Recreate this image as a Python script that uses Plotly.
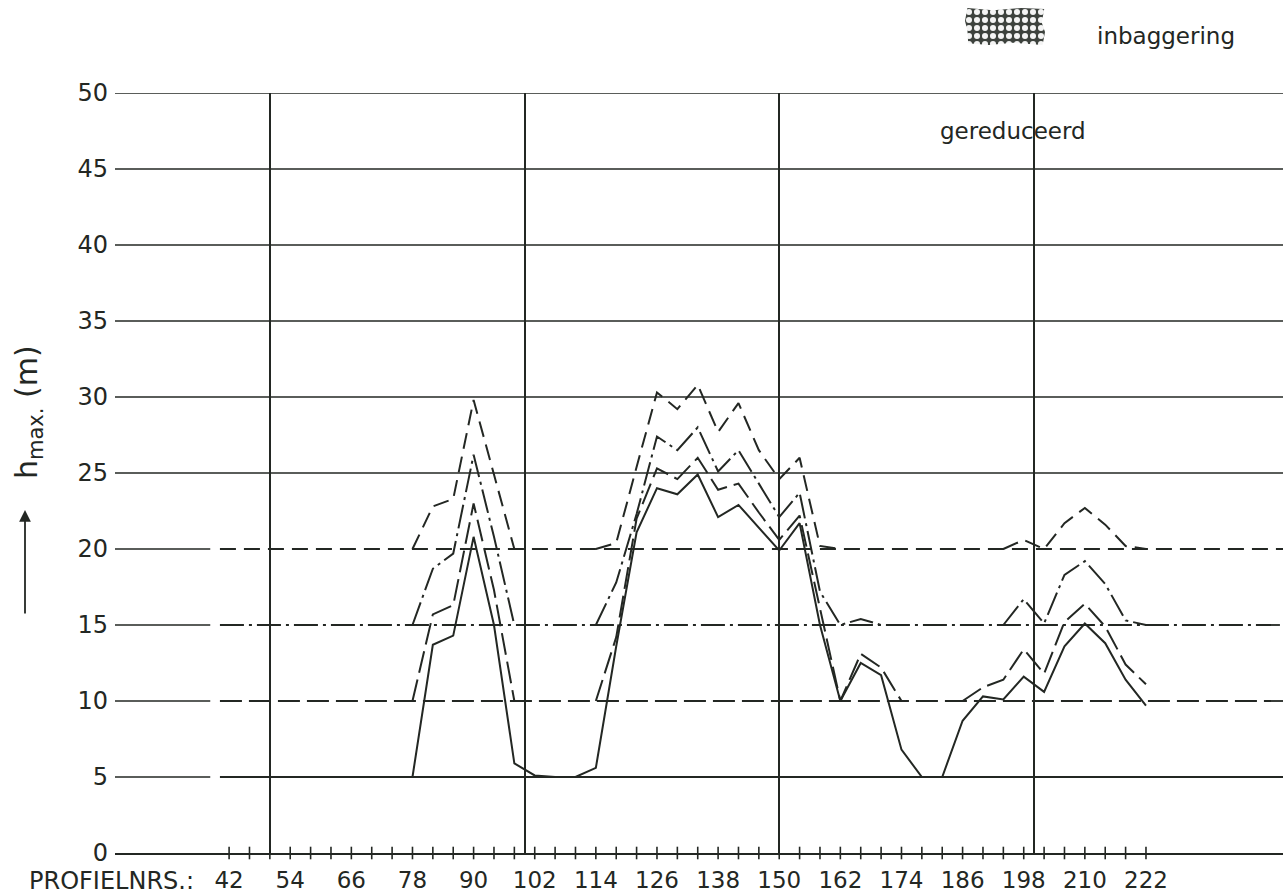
import plotly.graph_objects as go

# Profile numbers along the coast (every 4th profile)
PROFILES = [42, 46, 50, 54, 58, 62, 66, 70, 74,
            78, 82, 86, 90, 94, 98,
            102, 106, 110,
            114, 118, 122, 126, 130, 134, 138, 142, 146, 150, 154, 158,
            162, 166, 170, 174, 178, 182,
            186, 190, 194, 198, 202, 206, 210, 214, 218, 222]

# h_max (m) per profile, four curves each drawn on its own base level
H_SOLID = [5, 5, 5, 5, 5, 5, 5, 5, 5,
           5.0, 13.7, 14.3, 20.8, 15.0, 5.9,
           5.1, 5.0, 5.0,
           5.6, 13.6, 21.1, 24.0, 23.6, 24.9, 22.1, 22.9, 21.4, 19.9, 21.7, 15.0,
           10.0, 12.5, 11.7, 6.8, 5.0, 5.0,
           8.7, 10.3, 10.1, 11.6, 10.6, 13.6, 15.1, 13.8, 11.4, 9.7]
H_DASH = [10, 10, 10, 10, 10, 10, 10, 10, 10,
          10.0, 15.7, 16.3, 23.0, 17.3, 10.0,
          10, 10, 10,
          10.0, 14.2, 22.0, 25.3, 24.6, 26.0, 23.9, 24.3, 22.4, 20.6, 22.2, 16.0,
          10.0, 13.1, 12.2, 10.0, 10, 10,
          10.0, 10.9, 11.4, 13.4, 11.8, 15.2, 16.4, 14.9, 12.4, 11.1]
H_DASHDOT = [15, 15, 15, 15, 15, 15, 15, 15, 15,
             15.0, 18.7, 19.7, 26.2, 20.8, 15.0,
             15, 15, 15,
             15.0, 17.8, 22.3, 27.4, 26.5, 28.0, 25.1, 26.5, 24.3, 22.1, 23.7, 17.2,
             15.0, 15.4, 15.0, 15, 15, 15,
             15, 15, 15.0, 16.7, 15.1, 18.3, 19.2, 17.7, 15.3, 15.0]
H_LONGDASH = [20, 20, 20, 20, 20, 20, 20, 20, 20,
              20.0, 22.8, 23.3, 29.8, 24.9, 20.0,
              20, 20, 20,
              20.0, 20.4, 25.4, 30.3, 29.2, 30.8, 27.7, 29.6, 26.5, 24.6, 26.0, 20.2,
              20, 20, 20, 20, 20, 20,
              20, 20, 20.0, 20.6, 20.0, 21.7, 22.7, 21.6, 20.2, 20.0]

BASE_LEVELS = [5, 10, 15, 20]
FULL_GRID_LEVELS = [25, 30, 35, 40, 45, 50]
PROFILE_LABELS = [42, 54, 66, 78, 90, 102, 114, 126, 138, 150, 162, 174, 186, 198, 210, 222]
Y_TICKS = [0, 5, 10, 15, 20, 25, 30, 35, 40, 45, 50]

# ---- geometry / style ----
W, H = 1287, 896
ML, MR, MT, MB = 115, 4, 0, 43
PLOT_W = W - ML - MR
PLOT_H = H - MT - MB
X_RANGE = [19.6, 248.9]
STUB_END = 38.3      # short grid stubs for the base levels
BASE_START = 40.2    # where the base-level lines begin
INK = "#232723"
FONT = "DejaVu Sans"


def px(x):
    return (x - ML) / PLOT_W


def py(y):
    return (H - MB - y) / PLOT_H


Y_TOP = py(93)

fig = go.Figure()

series = [
    (H_SOLID, 5, "solid"),
    (H_DASH, 10, "22px,7px"),
    (H_DASHDOT, 15, "24px,5px,3px,5px"),
    (H_LONGDASH, 20, "16px,8px"),
]

# base-level lines in each curve's own line style
for vals, base, dash in series:
    fig.add_trace(go.Scatter(
        x=[BASE_START, X_RANGE[1]], y=[base, base], mode="lines",
        line=dict(color=INK, width=1.8, dash=dash),
        hoverinfo="skip", showlegend=False))

# curves: only the stretches that leave the base level
for vals, base, dash in series:
    ys = []
    n = len(vals)
    for i, v in enumerate(vals):
        up = [vals[j] > base + 0.05 for j in (i - 1, i, i + 1) if 0 <= j < n]
        ys.append(v if any(up) else None)
    fig.add_trace(go.Scatter(
        x=PROFILES, y=ys, mode="lines", connectgaps=False,
        line=dict(color=INK, width=2.0, dash=dash),
        hoverinfo="skip", showlegend=False))

# small ticks across the horizontal axis at every profile
fig.add_trace(go.Scatter(
    x=PROFILES, y=[0] * len(PROFILES), mode="markers",
    marker=dict(symbol="line-ns", size=9, line=dict(color=INK, width=1.6)),
    cliponaxis=False, hoverinfo="skip", showlegend=False))

# hatched legend patch for "inbaggering"
fig.add_trace(go.Scatter(
    x=[0.04, 0.3, 0.6, 0.97, 1.0, 0.96, 0.99, 0.7, 0.35, 0.03, 0.0, 0.03, 0.04],
    y=[0.05, 0.0, 0.06, 0.0, 0.35, 0.6, 0.97, 1.0, 0.94, 1.0, 0.65, 0.4, 0.05],
    mode="lines", fill="toself", line=dict(width=0, color="rgba(0,0,0,0)"),
    fillcolor="#4a4f4a",
    fillpattern=dict(shape=".", bgcolor="#3d423d", fgcolor="#f4f4f4",
                     size=8, solidity=0.45, fillmode="replace"),
    xaxis="x2", yaxis="y2", hoverinfo="skip", showlegend=False))

shapes = []
for lvl in FULL_GRID_LEVELS:
    shapes.append(dict(type="line", xref="x domain", yref="y", x0=0, x1=1,
                       y0=lvl, y1=lvl, line=dict(color=INK, width=1.6), layer="below"))
for lvl in BASE_LEVELS:
    shapes.append(dict(type="line", xref="x", yref="y", x0=X_RANGE[0], x1=STUB_END,
                       y0=lvl, y1=lvl, line=dict(color=INK, width=1.6), layer="below"))

annotations = [
    dict(text="PROFIELNRS.:", xref="paper", yref="paper", x=px(196), y=py(881),
         xanchor="right", yanchor="middle", showarrow=False,
         font=dict(family=FONT, size=24, color=INK)),
    dict(text="h<sub>max.</sub> (m)", xref="paper", yref="paper", x=px(28), y=py(412),
         xanchor="center", yanchor="middle", textangle=-90, showarrow=False,
         font=dict(family=FONT, size=30, color=INK)),
    dict(text="", xref="paper", yref="paper", x=px(25), y=py(510),
         ax=0, ay=105, showarrow=True, arrowhead=2, arrowsize=1.3,
         arrowwidth=1.8, arrowcolor=INK),
    dict(text="gereduceerd", xref="paper", yref="paper", x=px(1013), y=py(131),
         xanchor="center", yanchor="middle", showarrow=False,
         font=dict(family=FONT, size=23, color=INK)),
    dict(text="inbaggering", xref="paper", yref="paper", x=px(1166), y=py(36),
         xanchor="center", yanchor="middle", showarrow=False,
         font=dict(family=FONT, size=23, color=INK)),
]

fig.update_layout(
    width=W, height=H,
    margin=dict(l=ML, r=MR, t=MT, b=MB, autoexpand=False),
    paper_bgcolor="white", plot_bgcolor="white",
    showlegend=False,
    xaxis=dict(
        range=X_RANGE, tickmode="array", tickvals=PROFILE_LABELS,
        ticktext=[str(v) for v in PROFILE_LABELS], ticks="",
        showgrid=False, zeroline=False, automargin=False,
        showline=True, linecolor=INK, linewidth=1.6,
        tickfont=dict(family=FONT, size=23, color=INK),
        ticklabelstandoff=6,
        minor=dict(tickmode="array", tickvals=[50, 100, 150, 200], showgrid=True,
                   gridcolor=INK, gridwidth=1.6, ticks=""),
    ),
    yaxis=dict(
        range=[0, 50], domain=[0, Y_TOP], tickmode="array", tickvals=Y_TICKS,
        ticks="", showgrid=False, zeroline=False, showline=False, automargin=False,
        tickfont=dict(family=FONT, size=24, color=INK),
        ticklabelstandoff=6,
    ),
    xaxis2=dict(domain=[px(965), px(1045)], range=[0, 1], visible=False,
                anchor="y2", fixedrange=True, automargin=False),
    yaxis2=dict(domain=[py(45), py(8)], range=[0, 1], visible=False,
                anchor="x2", fixedrange=True, automargin=False),
    shapes=shapes,
    annotations=annotations,
)

fig.write_html("out.html")
